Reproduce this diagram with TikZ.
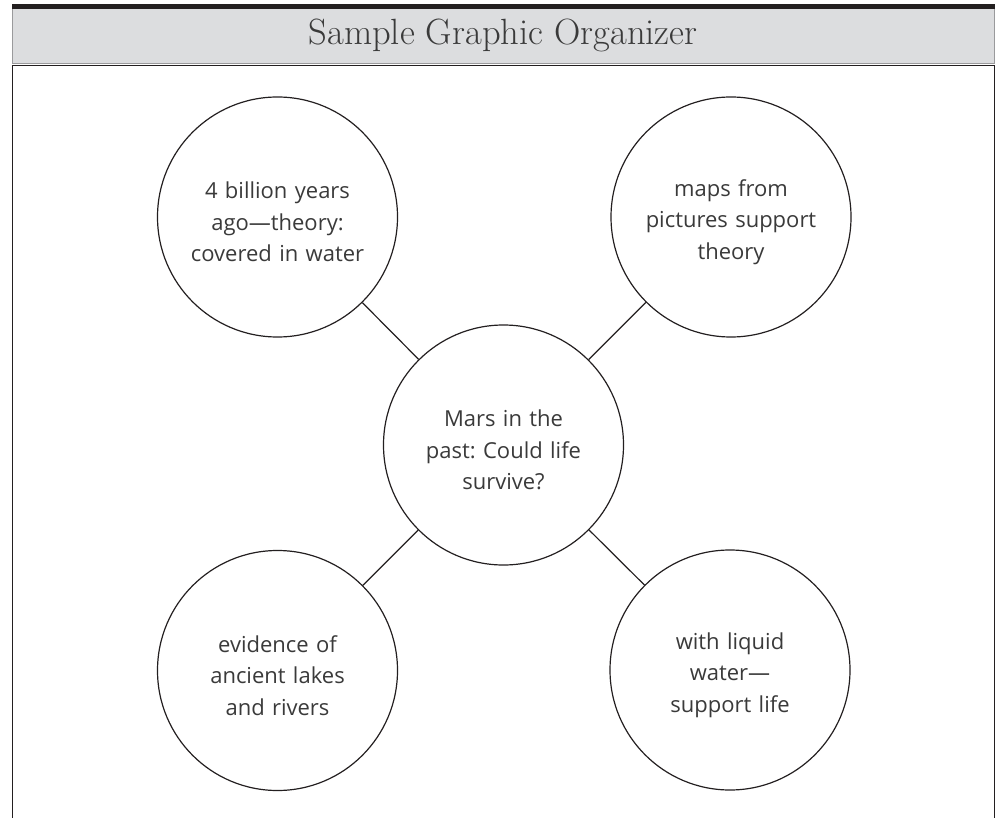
\documentclass[tikz,border=0pt]{standalone}
\usepackage{fontspec}
\newfontfamily\handfont{Open Sans}
\frenchspacing
\definecolor{headgray}{HTML}{DCDDDF}
\definecolor{headline}{HTML}{9A9A9C}
\definecolor{inkdark}{HTML}{231F20}
\definecolor{textgray}{HTML}{3A3A3A}
\tikzset{
  bubble/.style={circle, draw=inkdark, line width=1.2pt, minimum size=240pt, inner sep=0pt,
    align=center, text width=210pt, text=textgray,
    font=\handfont\fontsize{22}{31.5}\selectfont},
  link/.style={draw=inkdark, line width=1.2pt},
  heading/.style={text=textgray, font=\fontsize{36.5}{42}\selectfont, inner sep=0pt}
}
\begin{document}
\begin{tikzpicture}[x=1pt,y=-1pt]
\useasboundingbox (0,0) rectangle (998,818);
% header band
\fill[headgray] (12,9) rectangle (995,64);
\draw[headline, line width=1pt] (12.5,9) -- (12.5,64) (994.5,9) -- (994.5,64) (12,63.5) -- (995,63.5);
\fill[inkdark] (12,4) rectangle (995,9);
\draw[inkdark, line width=1.6pt] (12,65.5) -- (995,65.5);
% page borders
\draw[inkdark, line width=1.4pt] (12.7,65) -- (12.7,818) (994.3,65) -- (994.3,818);
\node[heading] (title) at (503,35) {Sample Graphic Organizer};
% circles
\node[bubble] (c)  at (503.5,445) {};
\node[bubble] (tl) at (277.5,217) {};
\node[bubble] (tr) at (731,217) {};
\node[bubble] (bl) at (277.5,670.5) {};
\node[bubble] (br) at (730,670) {};
% texts (set slightly below centre as in the original)
\node[bubble, draw=none, yshift=-5pt] (ct)  at (c)  {Mars in the\\past: Could life\\survive?};
\node[bubble, draw=none, yshift=-5pt] (tlt) at (tl) {4 billion years\\ago—theory:\\covered in water};
\node[bubble, draw=none, yshift=-5pt] (trt) at (tr) {maps from\\pictures support\\theory};
\node[bubble, draw=none, yshift=-5pt] (blt) at (bl) {evidence of\\ancient lakes\\and rivers};
\node[bubble, draw=none, yshift=-5pt] (brt) at (br) {with liquid\\water—\\support life};
% connectors
\draw[link] (c) -- (tl);
\draw[link] (c) -- (tr);
\draw[link] (c) -- (bl);
\draw[link] (c) -- (br);
\end{tikzpicture}
\end{document}
